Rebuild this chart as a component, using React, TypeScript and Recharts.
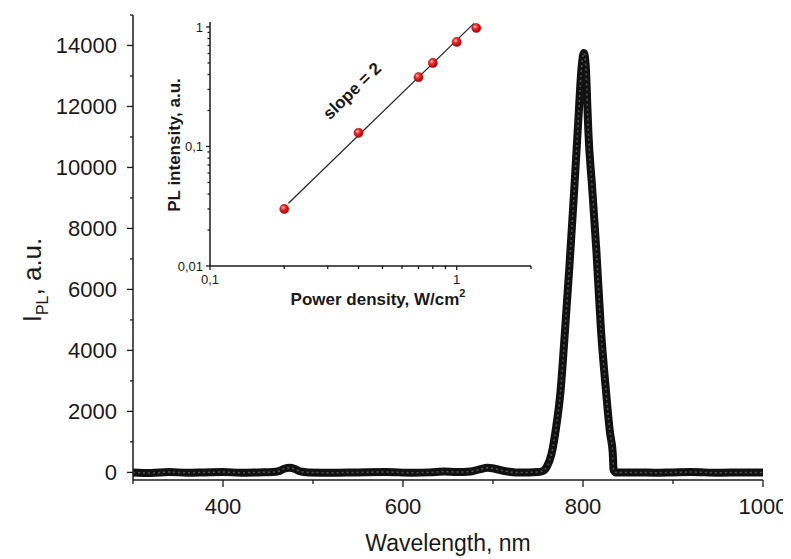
import React from 'react';
import { LineChart, Line, XAxis, YAxis, Label, ComposedChart, Scatter } from 'recharts';

// Main spectrum: wavelength (nm) and PL intensity (a.u.)
const wavelengths = [300, 320, 340, 360, 380, 400, 420, 440, 455, 462, 468, 474, 480, 486, 495, 520, 550, 580, 610, 630, 645, 660, 675, 685, 694, 702, 712, 725, 740, 750, 755, 760, 765, 770, 775, 780, 785, 790, 795, 797, 799, 801, 803, 805, 806, 810, 815, 820, 825, 830, 833, 834, 836, 860, 880, 900, 920, 950, 980, 1000];
const intensities = [0, -20, 10, -10, 0, 10, -10, 0, 10, 40, 120, 150, 110, 30, 0, -10, 0, 10, -10, 0, 30, 10, 30, 100, 150, 120, 50, 0, 0, 10, 40, 200, 600, 1450, 2650, 4650, 6800, 9150, 11650, 12700, 13450, 13750, 13350, 11900, 11150, 9400, 7200, 4650, 2850, 1300, 650, 80, 0, 0, -10, 0, 10, -10, 0, 0];

const xMajor = [400, 600, 800, 1000];
const xTicks = [300, 400, 500, 600, 700, 800, 900, 1000];
const yMajor = [0, 2000, 4000, 6000, 8000, 10000, 12000, 14000];
const yTicks = [0, 1000, 2000, 3000, 4000, 5000, 6000, 7000, 8000, 9000, 10000, 11000, 12000, 13000, 14000, 15000];

// Inset: power density (W/cm^2) vs PL intensity (a.u.)
const powerDensity = [0.2, 0.4, 0.7, 0.8, 1.0, 1.2];
const plIntensity = [0.03, 0.13, 0.38, 0.5, 0.75, 0.98];
const fitPower = [0.208, 1.175];
const fitIntensity = [0.0335, 1.07];

const insetXMajor = [0.1, 1];
const insetXTicks = [0.1, 0.2, 0.3, 0.4, 0.5, 0.6, 0.7, 0.8, 0.9, 1, 2];
const insetXLabels: Record<string, string> = { '0.1': '0,1', '1': '1' };
const insetYMajor = [0.01, 0.1, 1];
const insetYTicks = [0.01, 0.02, 0.03, 0.04, 0.05, 0.06, 0.07, 0.08, 0.09, 0.1, 0.2, 0.3, 0.4, 0.5, 0.6, 0.7, 0.8, 0.9, 1];
const insetYLabels: Record<string, string> = { '0.01': '0,01', '0.1': '0,1', '1': '1' };

const spectrum = wavelengths.map((w, i) => ({ wl: w, v: intensities[i] }));
const points = powerDensity.map((p, i) => ({ x: p, y: plIntensity[i] }));
const fit = fitPower.map((p, i) => ({ x: p, y: fitIntensity[i] }));

const FONT = '"Liberation Sans", Arial, sans-serif';
const AXIS = '#1a1a1a';

function makeXTick(majors: number[], offset: number, majLen: number, minLen: number, fontSize: number, fmt: (v: number) => string) {
  return (props: any) => {
    const { x, y, payload } = props;
    const v = payload.value;
    const isMajor = majors.some((m) => Math.abs(m - v) < 1e-9);
    const ay = y - offset;
    return (
      <g>
        <line x1={x} x2={x} y1={ay} y2={ay + (isMajor ? majLen : minLen)} stroke={AXIS} strokeWidth={1.3} />
        {isMajor && (
          <text x={x} y={y} dy="0.71em" textAnchor="middle" fontSize={fontSize} fontFamily={FONT} fill="#1a1a1a">
            {fmt(v)}
          </text>
        )}
      </g>
    );
  };
}

function makeYTick(majors: number[], offset: number, majLen: number, minLen: number, fontSize: number, fmt: (v: number) => string) {
  return (props: any) => {
    const { x, y, payload } = props;
    const v = payload.value;
    const isMajor = majors.some((m) => Math.abs(m - v) < 1e-9);
    const ax = x + offset;
    return (
      <g>
        <line x1={ax} x2={ax - (isMajor ? majLen : minLen)} y1={y} y2={y} stroke={AXIS} strokeWidth={1.3} />
        {isMajor && (
          <text x={x} y={y} dy="0.355em" textAnchor="end" fontSize={fontSize} fontFamily={FONT} fill="#1a1a1a">
            {fmt(v)}
          </text>
        )}
      </g>
    );
  };
}

const MainXTick = makeXTick(xMajor, 18, 7, 4, 22, (v) => String(v));
const MainYTick = makeYTick(yMajor, 16, 6, 3, 22, (v) => String(v));
const InsetXTick = makeXTick(insetXMajor, 9, 4, 3, 13, (v) => insetXLabels[String(v)] ?? '');
const InsetYTick = makeYTick(insetYMajor, 7, 4, 2.5, 13, (v) => insetYLabels[String(v)] ?? '');

const Ball = (props: any) => {
  const { cx, cy } = props;
  if (cx == null || cy == null) return null;
  return <circle cx={cx} cy={cy} r={4.6} fill="url(#redBall)" stroke="#b00000" strokeWidth={0.5} />;
};

export default function App() {
  return (
    <div style={{ position: 'relative', width: 783, height: 551, background: '#fff' }}>
      <svg width={0} height={0} style={{ position: 'absolute' }}>
        <defs>
          <radialGradient id="redBall" cx="38%" cy="35%" r="65%">
            <stop offset="0%" stopColor="#ffd0d0" />
            <stop offset="35%" stopColor="#f03030" />
            <stop offset="100%" stopColor="#a80000" />
          </radialGradient>
        </defs>
      </svg>
      <LineChart width={783} height={551} data={spectrum} margin={{ top: 7, right: 28, bottom: 19, left: 0 }}>
        <XAxis
          dataKey="wl"
          type="number"
          domain={[300, 1000]}
          ticks={xTicks}
          interval={0}
          allowDataOverflow
          tickLine={false}
          tickSize={7}
          tickMargin={11}
          tick={MainXTick}
          axisLine={{ stroke: AXIS, strokeWidth: 1.5 }}
          height={60}
        >
          <Label
            content={() => (
              <text x={440} y={543} textAnchor="middle" fontSize={23} fontFamily={FONT} fill="#1a1a1a">
                Wavelength, nm
              </text>
            )}
          />
        </XAxis>
        <YAxis
          type="number"
          domain={[-250, 15000]}
          ticks={yTicks}
          interval={0}
          allowDataOverflow
          tickLine={false}
          tickSize={6}
          tickMargin={10}
          tick={MainYTick}
          axisLine={{ stroke: AXIS, strokeWidth: 1.5 }}
          width={125}
        >
          <Label
            content={() => (
              <text transform="rotate(-90 33 272)" x={33} y={272} textAnchor="middle" fontSize={26} fontFamily={FONT} fill="#1a1a1a">
                I<tspan fontSize={16} dy={7}>PL</tspan>
                <tspan dy={-7}>, a.u.</tspan>
              </text>
            )}
          />
        </YAxis>
        <Line dataKey="v" type="monotone" stroke="#111" strokeWidth={8} dot={false} isAnimationActive={false} strokeLinejoin="round" />
        <Line dataKey="v" type="monotone" stroke="#555" strokeWidth={1.5} strokeDasharray="2 3" dot={false} isAnimationActive={false} />
      </LineChart>
      <div style={{ position: 'absolute', left: 130, top: 5 }}>
        <ComposedChart width={410} height={300} margin={{ top: 9, right: 17, bottom: 0, left: 0 }}>
          <XAxis
            dataKey="x"
            type="number"
            scale="log"
            domain={[0.1, 2]}
            ticks={insetXTicks}
            interval={0}
            allowDataOverflow
            tickLine={false}
            tickSize={4}
            tickMargin={5}
            tick={InsetXTick}
            axisLine={{ stroke: AXIS, strokeWidth: 1.5 }}
            height={47}
          >
            <Label
              content={() => (
                <text x={240} y={292} textAnchor="middle" fontSize={17} fontWeight="bold" fontFamily={FONT} fill="#1a1a1a">
                  Power density, W/cm<tspan fontSize={11} dy={-8}>2</tspan>
                </text>
              )}
            />
          </XAxis>
          <YAxis
            type="number"
            scale="log"
            domain={[0.01, 1.1]}
            ticks={insetYTicks}
            interval={0}
            allowDataOverflow
            tickLine={false}
            tickSize={3}
            tickMargin={4}
            tick={InsetYTick}
            axisLine={{ stroke: AXIS, strokeWidth: 1.5 }}
            width={72}
          >
            <Label
              content={() => (
                <text transform="rotate(-90 42 132)" x={42} y={132} textAnchor="middle" fontSize={17} fontWeight="bold" fontFamily={FONT} fill="#1a1a1a">
                  PL intensity, a.u.
                </text>
              )}
            />
          </YAxis>
          <Line data={fit} dataKey="y" type="linear" stroke="#222" strokeWidth={1.2} dot={false} isAnimationActive={false} />
          <Scatter data={points} dataKey="y" shape={Ball} isAnimationActive={false} />
        </ComposedChart>
        <svg width={410} height={300} style={{ position: 'absolute', left: 0, top: 0, pointerEvents: 'none' }}>
          <text transform="rotate(-44 218 82)" x={218} y={82} textAnchor="middle" fontSize={17} fontWeight="bold" fontFamily={FONT} fill="#1a1a1a">
            slope = 2
          </text>
        </svg>
      </div>
    </div>
  );
}
